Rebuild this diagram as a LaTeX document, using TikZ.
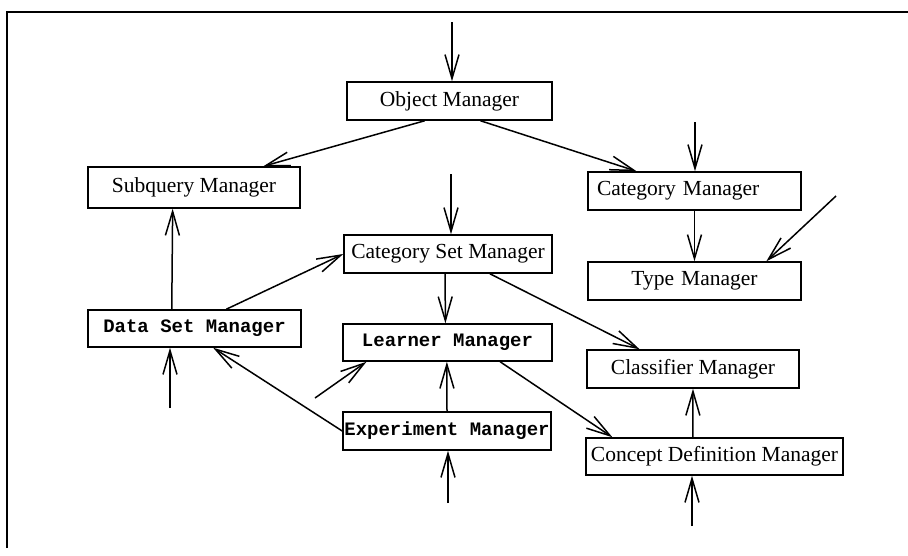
\documentclass[tikz,border=0pt]{standalone}
\usepackage{fontspec}
\setmainfont{Liberation Serif}
\setmonofont{Liberation Mono}
\usetikzlibrary{arrows.meta,calc}
\tikzset{
  box/.style={draw, line width=1.5pt, inner sep=0pt, align=center},
  sbox/.style={box, font=\fontsize{21.5}{24}\selectfont},
  mbox/.style={box, font=\fontsize{19}{22}\selectfont\ttfamily\bfseries},
  arr/.style={line width=1.5pt, -{Straight Barb[length=24pt,width=14pt,line width=1.5pt]}},
  frame/.style={line width=1.6pt}
}
\begin{document}
\begin{tikzpicture}[x=1pt,y=-1pt]
\useasboundingbox (0,0) rectangle (908,555);
% frame
\coordinate (ftl) at (7,12);
\coordinate (fbl) at (7,548);
\coordinate (ftr) at (908,12);
\draw[frame] (fbl) -- (ftl) -- (ftr);
% boxes
\node[sbox, minimum width=205pt, minimum height=38pt] (om) at (449.5,101) {Object Manager};
\node[sbox, minimum width=212pt, minimum height=41pt] (sq) at (194,187.5) {Subquery Manager};
\node[sbox, minimum width=213pt, minimum height=38pt, text width=195pt, align=left, inner xsep=9pt] (cm) at (694.5,191) {Category Manager};
\node[sbox, minimum width=213pt, minimum height=38pt, text width=213pt] (tm) at (694.5,281) {Type Manager\hspace*{16pt}};
\node[sbox, minimum width=208pt, minimum height=38pt] (cs) at (448,254) {Category Set Manager};
\node[mbox, minimum width=213pt, minimum height=37pt] (ds) at (194.5,328.5) {Data Set Manager};
\node[mbox, minimum width=209pt, minimum height=37pt] (lm) at (447.5,342.5) {Learner Manager};
\node[mbox, minimum width=208pt, minimum height=38pt] (em) at (447,431) {Experiment Manager};
\node[sbox, minimum width=212pt, minimum height=38pt] (cl) at (693,369) {Classifier Manager};
\node[sbox, minimum width=257pt, minimum height=37pt] (cd) at (714.5,456.5) {Concept Definition Manager};
% free ends
\coordinate (inom) at (452,22);
\coordinate (incm) at (695,122);
\coordinate (incs) at (451,174);
\coordinate (intm) at (836,196);
\coordinate (inds) at (170,408);
\coordinate (inlm) at (315,398);
\coordinate (inem) at (448,503);
\coordinate (incd) at (692,526);
% incoming vertical arrows
\draw[arr] (inom) -- (inom |- om.north);
\draw[arr] (incm) -- (incm |- cm.north);
\draw[arr] (incs) -- (incs |- cs.north);
\draw[arr] (inds) -- (inds |- ds.south);
\draw[arr] (inem) -- (inem |- em.south);
\draw[arr] (incd) -- (incd |- cd.south);
% incoming diagonal arrows
\draw[arr] (intm) -- ($(tm.north west)!0.835!(tm.north east)$);
\draw[arr] (inlm) -- ($(lm.south west)!0.115!(lm.south east)$);
% connectors between boxes
\draw[arr] ($(om.south west)!0.38!(om.south east)$) -- ($(sq.north west)!0.825!(sq.north east)$);
\draw[arr] ($(om.south west)!0.65!(om.south east)$) -- ($(cm.north west)!0.23!(cm.north east)$);
\draw[arr] ($(cm.south west)!0.5!(cm.south east)$) -- ($(tm.north west)!0.5!(tm.north east)$);
\draw[arr] ($(ds.north west)!0.394!(ds.north east)$) -- ($(sq.south west)!0.4!(sq.south east)$);
\draw[arr] ($(ds.north west)!0.648!(ds.north east)$) -- (cs.west);
\draw[arr] (em.west) -- ($(ds.south west)!0.587!(ds.south east)$);
\draw[arr] ($(cs.south west)!0.486!(cs.south east)$) -- ($(lm.north west)!0.49!(lm.north east)$);
\draw[arr] ($(em.north west)!0.5!(em.north east)$) -- ($(lm.south west)!0.497!(lm.south east)$);
\draw[arr] ($(cs.south west)!0.70!(cs.south east)$) -- ($(cl.north west)!0.25!(cl.north east)$);
\draw[arr] ($(lm.south west)!0.75!(lm.south east)$) -- ($(cd.north west)!0.105!(cd.north east)$);
\draw[arr] ($(cd.north west)!0.416!(cd.north east)$) -- ($(cl.south west)!0.5!(cl.south east)$);
\end{tikzpicture}
\end{document}
